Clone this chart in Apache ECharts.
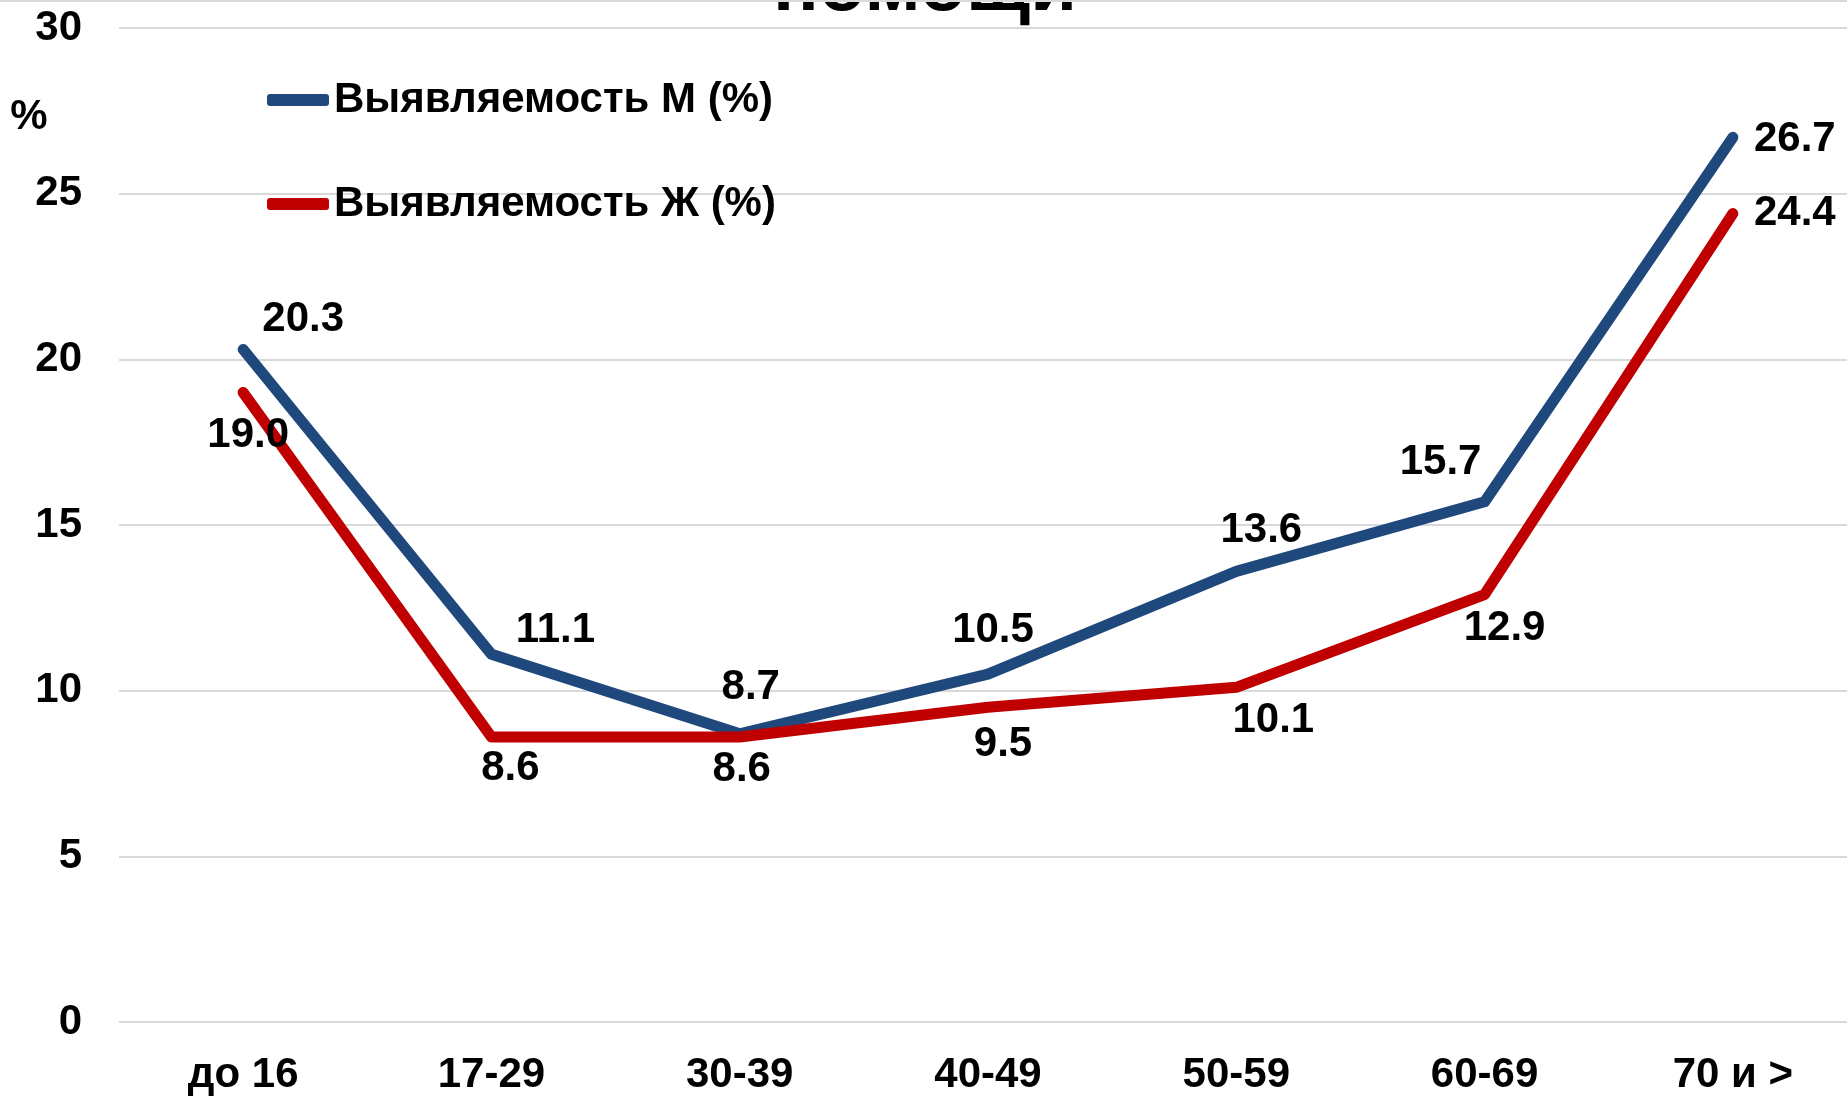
<!DOCTYPE html>
<html>
<head>
<meta charset="utf-8">
<script src="https://cdn.jsdelivr.net/npm/echarts@6/dist/echarts.min.js"></script>
<style>
  html, body { margin: 0; padding: 0; background: #fff; }
  #chart { width: 1847px; height: 1096px; }
</style>
</head>
<body>
<div id="chart"></div>
<script>
const categories = ['до 16', '17-29', '30-39', '40-49', '50-59', '60-69', '70 и >']
const menValues = [20.3, 11.1, 8.7, 10.5, 13.6, 15.7, 26.7]
const womenValues = [19.0, 8.6, 8.6, 9.5, 10.1, 12.9, 24.4]
const yTicks = [0, 5, 10, 15, 20, 25, 30]
const menName = 'Выявляемость М (%)'
const womenName = 'Выявляемость Ж (%)'

// label offsets from the point, in px
const menOffsets = [[60, -30], [64, -24], [11, -46], [5, -44], [25, -41], [-44, -39], [62, 2]]
const womenOffsets = [[5, 43], [19, 31], [2, 32], [15, 37], [37, 33], [20, 34], [62, 0]]

const font = 'Liberation Sans, Arial, sans-serif'
const blue = '#1f497d'
const red = '#c00000'
const fs = 42

const chart = echarts.init(document.getElementById('chart'))

const withLabels = (vals, offs) => vals.map((v, i) => ({
  value: v,
  label: { offset: offs[i] }
}))

const lineSeries = (name, vals, offs, color) => ({
  name: name,
  type: 'line',
  data: withLabels(vals, offs),
  symbol: 'circle',
  symbolSize: 1,
  showSymbol: true,
  itemStyle: { color: color },
  lineStyle: { color: color, width: 11, cap: 'round', join: 'round' },
  label: {
    show: true,
    position: 'inside',
    align: 'center',
    verticalAlign: 'middle',
    color: '#000',
    fontFamily: font,
    fontWeight: 'bold',
    fontSize: fs,
    formatter: p => p.value.toFixed(1)
  },
  emphasis: { disabled: true },
  animation: false
})

const legendBase = {
  orient: 'vertical',
  left: 267,
  padding: 0,
  itemWidth: 62,
  itemHeight: 12,
  icon: 'roundRect',
  selectedMode: false,
  textStyle: { color: '#000', fontFamily: font, fontWeight: 'bold', fontSize: fs }
}

chart.setOption({
  animation: false,
  backgroundColor: '#fff',
  // plot area runs a little past the right edge of the page
  grid: { left: 119, width: 1738, top: 28, bottom: 74, containLabel: false, outerBoundsMode: 'none' },
  legend: [
    Object.assign({}, legendBase, { top: 79, data: [menName] }),
    Object.assign({}, legendBase, { top: 183, data: [womenName] })
  ],
  xAxis: {
    type: 'category',
    data: categories,
    boundaryGap: true,
    axisLine: { show: false },
    axisTick: { show: false },
    axisLabel: { color: '#000', fontFamily: font, fontWeight: 'bold', fontSize: fs, margin: 32 }
  },
  yAxis: {
    type: 'value',
    min: yTicks[0],
    max: yTicks[yTicks.length - 1],
    interval: 5,
    axisLine: { show: false },
    axisTick: { show: false },
    splitLine: { lineStyle: { color: '#d9d9d9', width: 2 } },
    axisLabel: { color: '#000', fontFamily: font, fontWeight: 'bold', fontSize: fs, margin: 37 }
  },
  graphic: [
    {
      type: 'text',
      style: {
        text: 'помощи',
        x: 925, y: -11,
        fontFamily: font, fontWeight: 'bold', fontSize: 76,
        fill: '#000', textAlign: 'center', textVerticalAlign: 'middle'
      }
    },
    {
      type: 'rect',
      shape: { x: 0, y: 0, width: 1847, height: 2 },
      style: { fill: '#d9d9d9' }
    },
    {
      type: 'text',
      style: {
        text: '%', x: 29, y: 117,
        fontFamily: font, fontWeight: 'bold', fontSize: fs,
        fill: '#000', textAlign: 'center', textVerticalAlign: 'middle'
      }
    }
  ],
  series: [
    lineSeries(menName, menValues, menOffsets, blue),
    lineSeries(womenName, womenValues, womenOffsets, red)
  ]
})
</script>
</body>
</html>
